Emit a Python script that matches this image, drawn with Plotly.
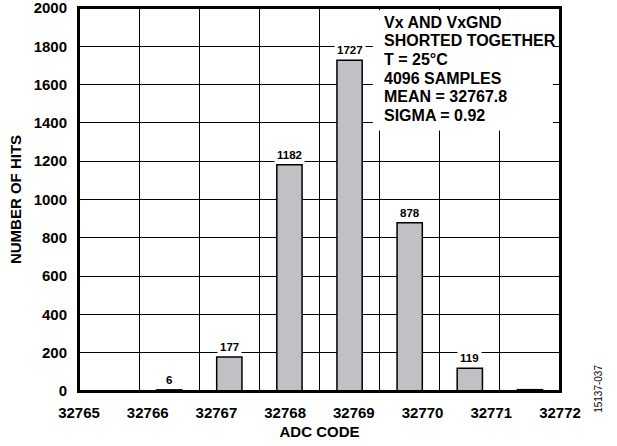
import plotly.graph_objects as go

# histogram data
adc_codes = [32766, 32767, 32768, 32769, 32770, 32771, 32772]
hits = [6, 177, 1182, 1727, 878, 119, 7]
hit_labels = ["6", "177", "1182", "1727", "878", "119", ""]
code_ticks = [32765, 32766, 32767, 32768, 32769, 32770, 32771, 32772]
y_ticks = list(range(0, 2001, 200))
note_lines = ["Vx AND VxGND", "SHORTED TOGETHER", "T = 25°C",
              "4096 SAMPLES", "MEAN = 32767.8", "SIGMA = 0.92"]

FONT = "Liberation Sans, Arial, sans-serif"
BOLD = dict(family=FONT, color="black", weight="bold")

# the grid has 8 equal bins spread over the 7 code intervals of the axis
x_lo, x_hi = code_ticks[0], code_ticks[-1]
n_bins = len(code_ticks)
bin_w = (x_hi - x_lo) / n_bins
bin_pos = [x_lo + (c - x_lo + 0.5) * bin_w for c in adc_codes]

fig = go.Figure()
fig.add_trace(go.Bar(x=bin_pos, y=hits, width=0.42 * bin_w,
                     marker=dict(color="#c0c1c5", line=dict(color="black", width=1.5)),
                     hoverinfo="skip", showlegend=False))

for p, h, lab in zip(bin_pos, hits, hit_labels):
    if lab:
        fig.add_annotation(x=p, y=h, text=lab, showarrow=False, yanchor="bottom", yshift=1,
                           bgcolor="white", borderpad=2, font=dict(BOLD, size=11.5))

# white box behind the notes, covering the grid
fig.add_shape(type="rect", xref="paper", yref="paper", x0=0.611, x1=0.985, y0=0.68, y1=0.994,
              fillcolor="white", line=dict(width=0), layer="above")
# plot frame
fig.add_shape(type="rect", xref="paper", yref="paper", x0=0, x1=1, y0=0, y1=1,
              line=dict(color="black", width=2), layer="above")
for i, line in enumerate(note_lines):
    fig.add_annotation(xref="paper", yref="paper", x=0.63, y=0.963 - i * 0.0486, text=line,
                       showarrow=False, xanchor="left", yanchor="middle",
                       font=dict(BOLD, size=16))

fig.add_annotation(xref="paper", yref="paper", x=1.094, y=-0.063, text="15137-037",
                   textangle=-90, showarrow=False, font=dict(family=FONT, size=10, color="black"))

fig.update_layout(
    width=617, height=446,
    margin=dict(l=79, r=57, t=8, b=55),
    plot_bgcolor="white", paper_bgcolor="white",
    xaxis=dict(range=[x_lo, x_hi], tickvals=code_ticks, ticktext=[str(c) for c in code_ticks],
               showgrid=False, zeroline=False, ticks="", ticklabelstandoff=7,
               ticklabeloverflow="allow", tickfont=dict(BOLD, size=15), automargin=False,
               minor=dict(tick0=x_lo, dtick=bin_w, showgrid=True, gridcolor="black",
                          gridwidth=1.3, ticks=""),
               showline=True, linecolor="black", linewidth=2, mirror=True,
               title=dict(text="ADC CODE", font=dict(BOLD, size=15), standoff=6)),
    yaxis=dict(range=[0, 2000], tickvals=y_ticks, showgrid=True, gridcolor="black",
               gridwidth=1.3, zeroline=False, showline=True, linecolor="black", linewidth=2,
               mirror=True, ticks="", ticklabelstandoff=7,
               ticklabeloverflow="allow", tickfont=dict(BOLD, size=15), automargin=False,
               title=dict(text="NUMBER OF HITS", font=dict(BOLD, size=15), standoff=8)),
)

fig.write_html("out.html", config={"displayModeBar": False},
               post_script="document.body.style.margin='0';")
